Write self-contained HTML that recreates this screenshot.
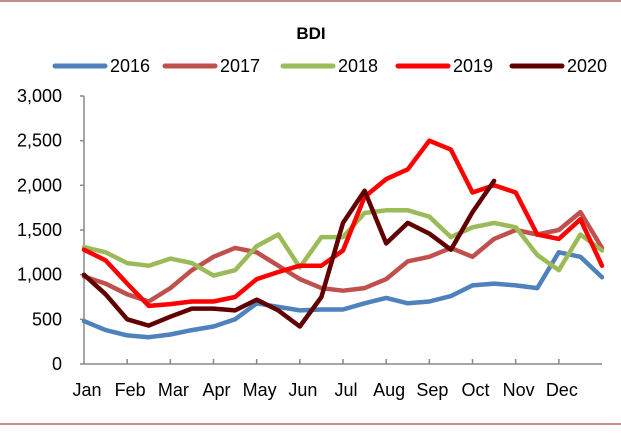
<!DOCTYPE html>
<html><head><meta charset="utf-8"><style>
body{margin:0;background:#fff;font-family:"Liberation Sans",Arial,sans-serif}
svg text{font-family:"Liberation Sans",Arial,sans-serif}
</style></head><body>
<svg id="c" width="621" height="429" xmlns="http://www.w3.org/2000/svg">
<line x1="0" y1="1" x2="621" y2="1" stroke="#8b1a1a" stroke-width="1"/>
<line x1="0" y1="424" x2="621" y2="424" stroke="#8b1a1a" stroke-width="1"/>
<text x="311" y="39" text-anchor="middle" font-size="17" font-weight="bold">BDI</text>
<g id="legend"></g>
<g id="axes"></g>
<g id="series"></g>
</svg>
<script>
const months=["Jan","Feb","Mar","Apr","May","Jun","Jul","Aug","Sep","Oct","Nov","Dec"];
const yTicks=[0,500,1000,1500,2000,2500,3000];
const yTickLabels=["0","500","1,000","1,500","2,000","2,500","3,000"];
const seriesNames=["2016","2017","2018","2019","2020"];
const seriesColors=["#4f81bd","#c0504d","#9bbb59","#ff0000","#600000"];
// values sampled every half-month (0 = Jan 1 ... 24 = Dec 31)
const s2016=[480,380,320,300,330,380,420,500,680,640,600,610,610,680,740,680,700,760,880,900,880,850,1250,1200,970];
const s2017=[980,900,780,700,850,1050,1200,1300,1250,1100,950,850,820,850,950,1150,1200,1300,1200,1400,1500,1450,1500,1700,1300];
const s2018=[1310,1250,1130,1100,1180,1130,990,1050,1320,1450,1080,1420,1420,1690,1720,1720,1650,1420,1530,1580,1530,1220,1050,1450,1270];
const s2019=[1280,1160,900,650,670,700,700,750,950,1030,1100,1100,1270,1870,2070,2180,2500,2400,1920,2000,1920,1450,1400,1620,1100];
const s2020=[1000,780,500,430,530,620,620,600,720,600,420,750,1580,1940,1350,1580,1460,1280,1700,2050];
const allSeries=[s2016,s2017,s2018,s2019,s2020];
const NS="http://www.w3.org/2000/svg";
const x0=84,x1=602,y0=364,y1=96;
const xs=t=>x0+(x1-x0)*t/24;
const ys=v=>y0-(y0-y1)*v/3000;
function mk(tag,attrs,parent){const e=document.createElementNS(NS,tag);for(const k in attrs)e.setAttribute(k,attrs[k]);parent.appendChild(e);return e;}
const ax=document.getElementById('axes');
let e=mk('line',{x1:x0,y1:y1,x2:x0,y2:y0,stroke:'#888','stroke-width':1.5},ax);


e=mk('line',{x1:x0,y1:y0,x2:x1,y2:y0,stroke:'#888','stroke-width':1.5},ax);


yTicks.forEach((v,i)=>{
 const l=mk('line',{x1:x0-4,y1:ys(v),x2:x0,y2:ys(v),stroke:'#888','stroke-width':1.5},ax);
 
 
 const t=mk('text',{x:62,y:ys(v)+6,'text-anchor':'end','font-size':18},ax);
 t.textContent=yTickLabels[i];
 
 
});
months.forEach((m,i)=>{
 const xt=xs(i*2);
 if(i>0){const l=mk('line',{x1:xt,y1:y0-5,x2:xt,y2:y0,stroke:'#888','stroke-width':1.5},ax);
 
 }
 const t=mk('text',{x:xt+3,y:396,'text-anchor':'middle','font-size':18},ax);
 t.textContent=m;
 
 
});
const sg=document.getElementById('series');
allSeries.forEach((s,k)=>{
 const d=s.map((v,i)=>(i?'L':'M')+xs(i).toFixed(1)+' '+ys(v).toFixed(1)).join(' ');
 const p=mk('path',{d:d,fill:'none',stroke:seriesColors[k],'stroke-width':4.5,'stroke-linejoin':'round','stroke-linecap':'round'},sg);
 
 
});
const lg=document.getElementById('legend');
const lx=[55,165,283,398,512];
seriesNames.forEach((n,k)=>{
 const l=mk('line',{x1:lx[k],y1:66,x2:lx[k]+50,y2:66,stroke:seriesColors[k],'stroke-width':5,'stroke-linecap':'round'},lg);
 
 
 const t=mk('text',{x:lx[k]+55,y:72,'font-size':18},lg);
 t.textContent=n;
 
 
});
</script>
</body></html>
